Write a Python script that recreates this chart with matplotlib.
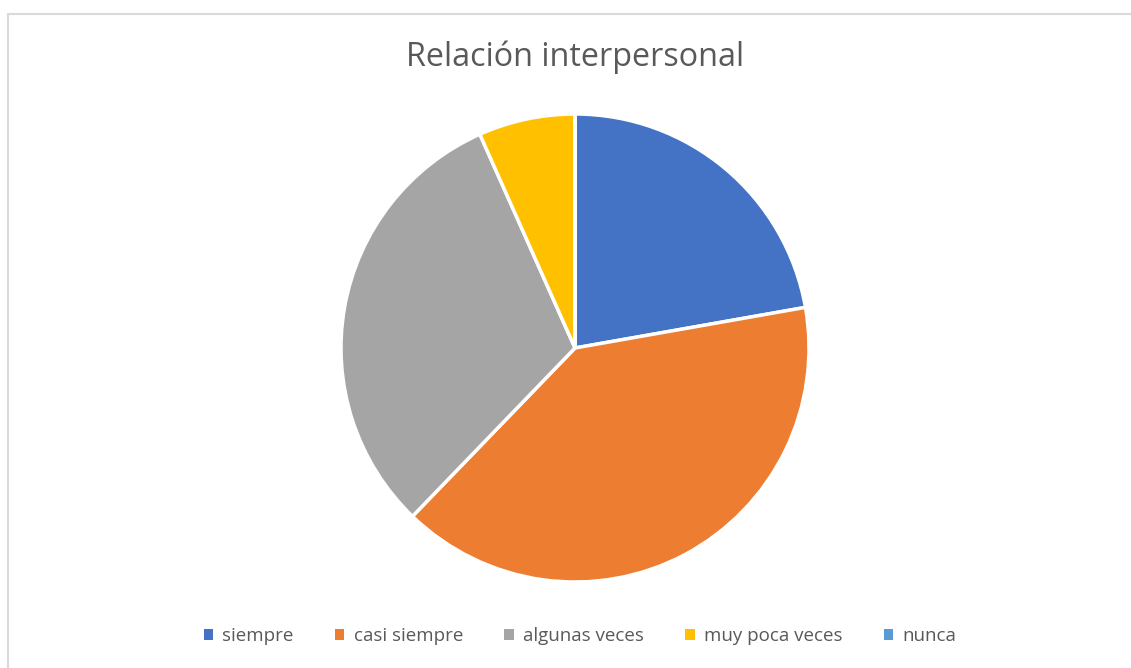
import matplotlib
matplotlib.use("Agg")
import matplotlib.pyplot as plt
from matplotlib.patches import Rectangle, Patch

plt.rcParams["font.family"] = ["Open Sans", "DejaVu Sans"]

TEXT = "#595959"
BORDER = "#d9d9d9"

labels = ["siempre", "casi siempre", "algunas veces", "muy poca veces", "nunca"]
counts = [10, 18, 14, 3, 0]
colors = ["#4472c4", "#ed7d31", "#a5a5a5", "#ffc000", "#5b9bd5"]

W, H = 1131, 668
fig = plt.figure(figsize=(W / 100, H / 100), dpi=100)

# chart-area border (runs off the right/bottom of the image)
fig.patches.append(Rectangle((8 / W, -0.05), 1.1, 1 - 14 / H + 0.05,
                             transform=fig.transFigure, fill=False,
                             edgecolor=BORDER, lw=1.5))

cx, cy, r = 575, 348, 234
ax = fig.add_axes([(cx - r) / W, 1 - (cy + r) / H, 2 * r / W, 2 * r / H])
ax.pie(counts, colors=colors, startangle=90, counterclock=False, radius=1,
       wedgeprops=dict(edgecolor="white", linewidth=2.5))
ax.set_xlim(-1, 1); ax.set_ylim(-1, 1)
ax.set_aspect("equal")
ax.axis("off")

fig.text(cx / W, 1 - 57 / H, "Relación interpersonal", ha="center", va="center",
         fontsize=23.3, color=TEXT)

handles = [Patch(facecolor=c, edgecolor="none") for c in colors]
fig.legend(handles, labels, loc="center", bbox_to_anchor=(580 / W, 1 - 636 / H),
           ncol=5, frameon=False, fontsize=13.5, labelcolor=TEXT,
           handlelength=0.5, handleheight=0.5, handletextpad=0.5,
           columnspacing=2.2)

fig.savefig("out.png", dpi=100)
